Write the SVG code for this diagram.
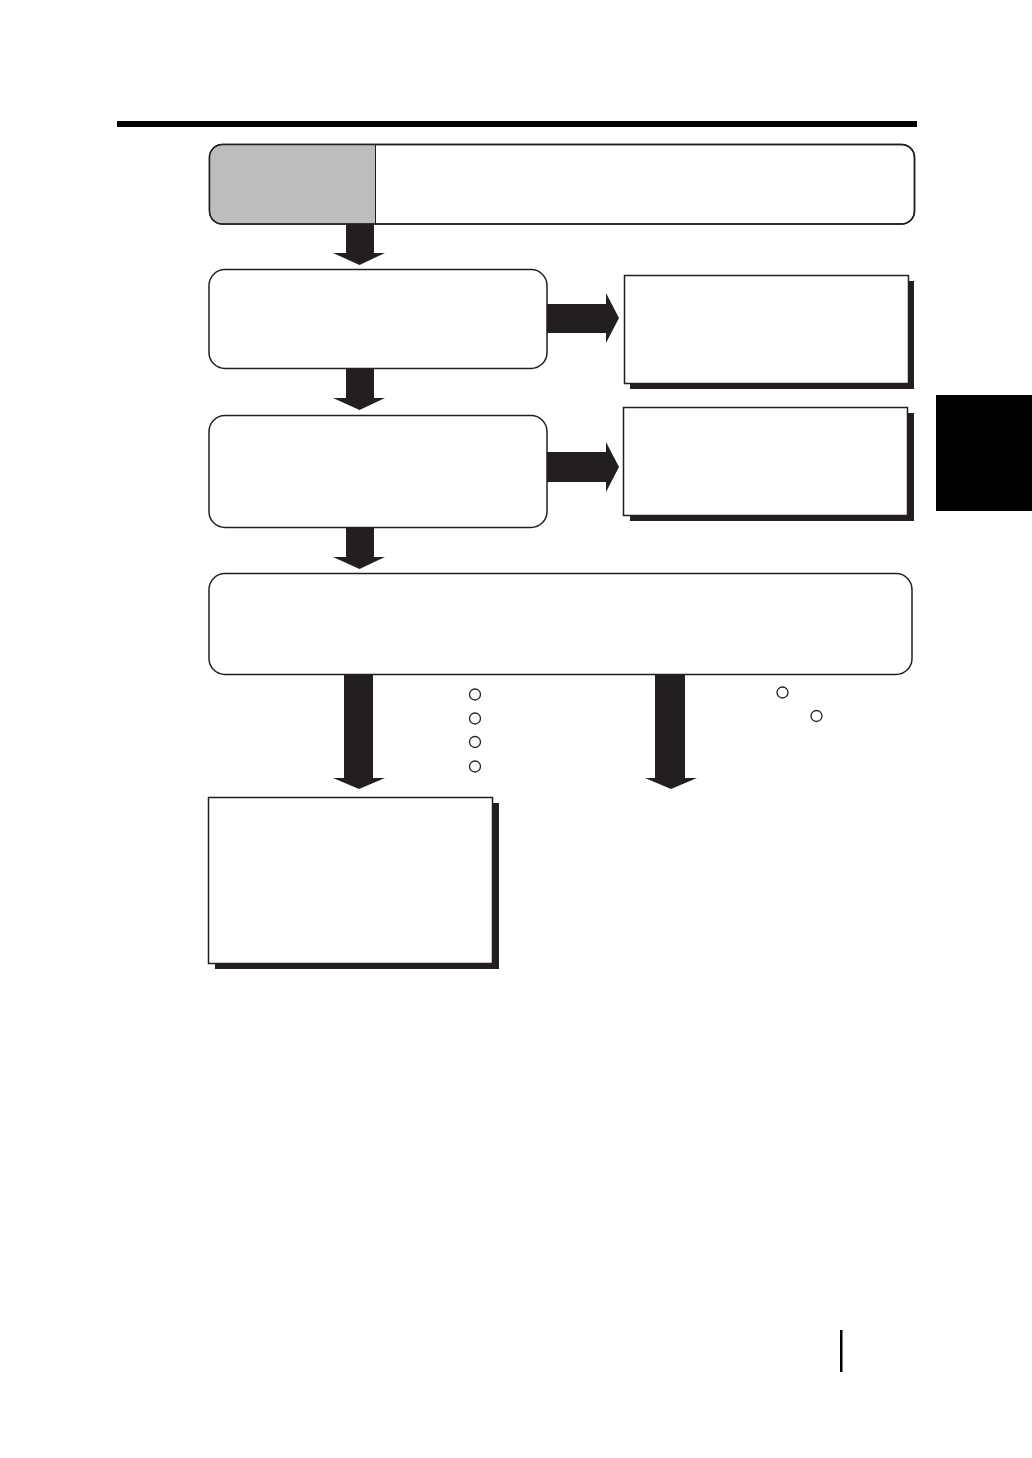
<svg xmlns="http://www.w3.org/2000/svg" width="1032" height="1458" viewBox="0 0 1032 1458">
<style>
.box{fill:#ffffff;stroke:#231f20;stroke-width:1.5}
.shadow{fill:#231f20}
.arrow{fill:#231f20}
.dot{fill:none;stroke:#231f20;stroke-width:1.3}
</style>
<rect width="1032" height="1458" fill="#ffffff"/>
<rect x="117" y="121" width="800" height="6" fill="#000000"/>
<rect x="936" y="395" width="96" height="116" fill="#000000"/>
<rect x="840" y="1330" width="2.5" height="42" fill="#000000"/>

<g id="connectors">
  <polygon class="arrow" points="346,224 374,224 374,253 385,253 359.5,265 333,253 346,253"/>
  <polygon class="arrow" points="346,368 374,368 374,398 385,398 359.5,410 333,398 346,398"/>
  <polygon class="arrow" points="346,527 374,527 374,557 385,557 359.5,569 333,557 346,557"/>
  <polygon class="arrow" points="547,304 606,304 606,293 619,318 606,343 606,333 547,333"/>
  <polygon class="arrow" points="547,452 606,452 606,442 619,467 606,492 606,482 547,482"/>
  <polygon class="arrow" points="344,674 373,674 373,778 385,778 359,789 333,778 344,778"/>
  <polygon class="arrow" points="655,674 685,674 685,778 697,778 671,789 645,778 655,778"/>
</g>

<g id="node-top">
  <rect class="box" x="209.5" y="144.5" width="705" height="79.5" rx="13"/>
  <path d="M375.5,145.2 L222.5,145.2 A12.3,12.3 0 0 0 210.2,157.5 L210.2,211 A12.3,12.3 0 0 0 222.5,223.3 L375.5,223.3 Z" fill="#bdbdbd"/>
  <rect x="209.5" y="144.5" width="705" height="79.5" rx="13" fill="none" stroke="#231f20" stroke-width="1.5"/>
  <line x1="375.5" y1="145" x2="375.5" y2="224" stroke="#231f20" stroke-width="1"/>
</g>

<g id="node-step1">
  <rect class="box" x="209" y="269.5" width="338" height="99" rx="16"/>
</g>

<g id="node-step2">
  <rect class="box" x="209" y="415.5" width="338" height="112" rx="16"/>
</g>

<g id="node-side1">
  <rect class="shadow" x="630" y="281" width="284" height="108"/>
  <rect class="box" x="624.5" y="275.5" width="284" height="108"/>
</g>

<g id="node-side2">
  <rect class="shadow" x="630" y="413" width="284" height="108"/>
  <rect class="box" x="623.5" y="407.5" width="284" height="108"/>
</g>

<g id="node-step3">
  <rect class="box" x="209" y="573.5" width="703" height="101" rx="16"/>
</g>

<g id="node-notes">
  <circle class="dot" cx="475" cy="694.5" r="5.5"/>
  <circle class="dot" cx="475" cy="718.5" r="5.5"/>
  <circle class="dot" cx="475" cy="742" r="5.5"/>
  <circle class="dot" cx="475" cy="766.5" r="5.5"/>
  <circle class="dot" cx="782.5" cy="692.5" r="5.5"/>
  <circle class="dot" cx="816.5" cy="716" r="5.5"/>
</g>

<g id="node-result">
  <rect class="shadow" x="215" y="803" width="284" height="166"/>
  <rect class="box" x="208.5" y="797.5" width="284" height="166"/>
</g>
</svg>
